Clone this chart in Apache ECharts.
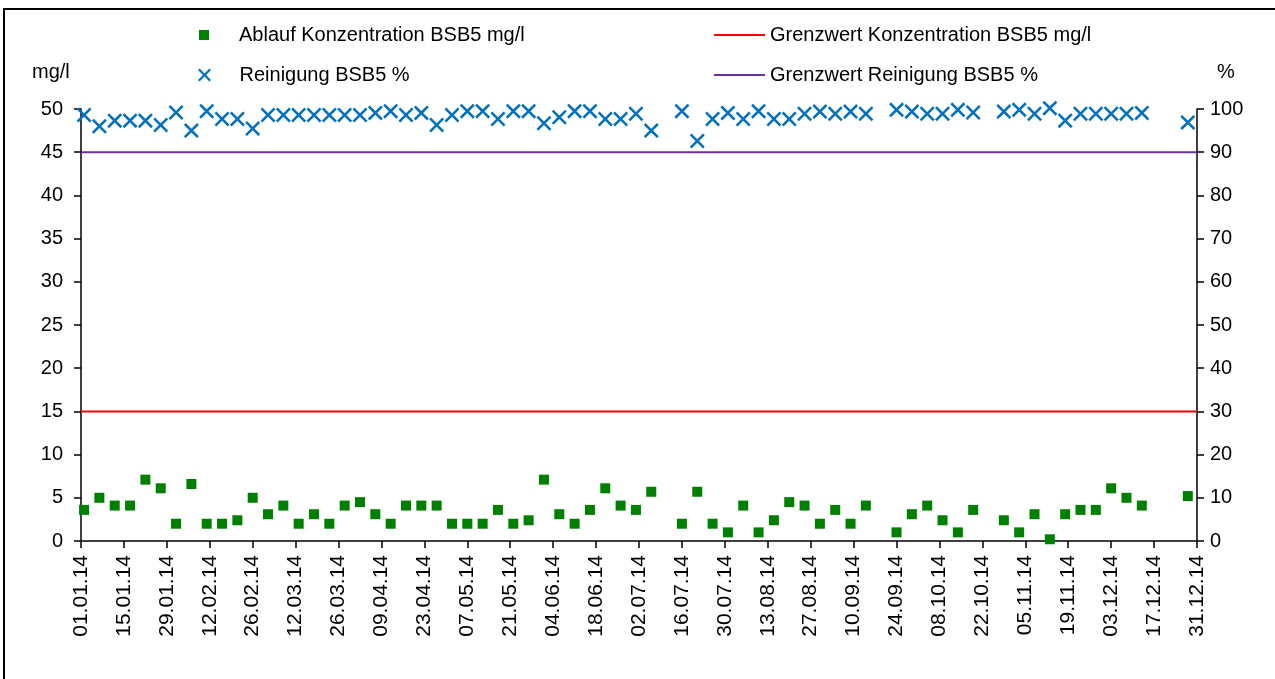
<!DOCTYPE html>
<html>
<head>
<meta charset="utf-8">
<title>BSB5 Ablauf 2014</title>
<script src="https://cdn.jsdelivr.net/npm/echarts@6/dist/echarts.min.js"></script>
<style>
  html, body { margin: 0; padding: 0; background: #fff; overflow: hidden; }
  #chart { width: 1275px; height: 679px; }
</style>
</head>
<body>
<div id="chart"></div>
<script>
// x-axis tick labels, every 14 days
const tickLabels = [
  '01.01.14', '15.01.14', '29.01.14', '12.02.14', '26.02.14', '12.03.14', '26.03.14',
  '09.04.14', '23.04.14', '07.05.14', '21.05.14', '04.06.14', '18.06.14', '02.07.14',
  '16.07.14', '30.07.14', '13.08.14', '27.08.14', '10.09.14', '24.09.14', '08.10.14',
  '22.10.14', '05.11.14', '19.11.14', '03.12.14', '17.12.14', '31.12.14'
];

// sampling dates
const messDatum = [
  '02.01.14', '07.01.14', '12.01.14', '17.01.14', '22.01.14', '27.01.14',
  '01.02.14', '06.02.14', '11.02.14', '16.02.14', '21.02.14', '26.02.14',
  '03.03.14', '08.03.14', '13.03.14', '18.03.14', '23.03.14', '28.03.14',
  '02.04.14', '07.04.14', '12.04.14', '17.04.14', '22.04.14', '27.04.14',
  '02.05.14', '07.05.14', '12.05.14', '17.05.14', '22.05.14', '27.05.14',
  '01.06.14', '06.06.14', '11.06.14', '16.06.14', '21.06.14', '26.06.14',
  '01.07.14', '06.07.14', '16.07.14', '21.07.14', '26.07.14', '31.07.14',
  '05.08.14', '10.08.14', '15.08.14', '20.08.14', '25.08.14', '30.08.14',
  '04.09.14', '09.09.14', '14.09.14', '24.09.14', '29.09.14',
  '04.10.14', '09.10.14', '14.10.14', '19.10.14', '29.10.14',
  '03.11.14', '08.11.14', '13.11.14', '18.11.14', '23.11.14', '28.11.14',
  '03.12.14', '08.12.14', '13.12.14', '28.12.14'
];

// Ablauf Konzentration BSB5 in mg/l
const ablaufBSB5 = [
  3.6, 5.0, 4.1, 4.1, 7.1, 6.1,
  2.0, 6.6, 2.0, 2.0, 2.4, 5.0,
  3.1, 4.1, 2.0, 3.1, 2.0, 4.1,
  4.5, 3.1, 2.0, 4.1, 4.1, 4.1,
  2.0, 2.0, 2.0, 3.6, 2.0, 2.4,
  7.1, 3.1, 2.0, 3.6, 6.1, 4.1,
  3.6, 5.7, 2.0, 5.7, 2.0, 1.0,
  4.1, 1.0, 2.4, 4.5, 4.1, 2.0,
  3.6, 2.0, 4.1, 1.0, 3.1,
  4.1, 2.4, 1.0, 3.6, 2.4,
  1.0, 3.1, 0.2, 3.1, 3.6, 3.6,
  6.1, 5.0, 4.1, 5.2
];

// Reinigungsleistung BSB5 in %
const reinigungBSB5 = [
  98.6, 96.0, 97.3, 97.3, 97.3, 96.3,
  99.2, 95.0, 99.5, 97.7, 97.7, 95.5,
  98.6, 98.6, 98.6, 98.6, 98.6, 98.6,
  98.6, 99.1, 99.5, 98.6, 99.1, 96.3,
  98.6, 99.5, 99.5, 97.7, 99.5, 99.5,
  96.7, 98.1, 99.5, 99.5, 97.7, 97.7,
  98.9, 95.0, 99.5, 92.6, 97.7, 99.1,
  97.7, 99.5, 97.7, 97.7, 98.9, 99.4,
  98.9, 99.4, 98.9, 99.8, 99.4,
  98.9, 98.9, 99.8, 99.2, 99.4,
  99.8, 98.9, 100.2, 97.3, 98.9, 98.9,
  98.9, 98.9, 99.1, 96.9
];

const grenzwertKonz = 15;       // mg/l
const grenzwertReinigung = 90;  // %

const fontFamily = '"Liberation Sans", Arial, sans-serif';
const crossPath = 'path://M0,1.2L1.2,0L5,3.8L8.8,0L10,1.2L6.2,5L10,8.8L8.8,10L5,6.2L1.2,10L0,8.8L3.8,5Z';

// days since 01.01.14
const toDay = (s) => {
  const [d, m, y] = s.split('.').map(Number);
  return (Date.UTC(2000 + y, m - 1, d) - Date.UTC(2014, 0, 1)) / 86400000;
};

const xStart = toDay(tickLabels[0]);
const xEnd = toDay(tickLabels[tickLabels.length - 1]);

const chart = echarts.init(document.getElementById('chart'));

const axisLine = { show: true, lineStyle: { color: '#000', width: 1.5 } };
const axisTick = { show: true, inside: false, length: 7, lineStyle: { color: '#000', width: 1.5 } };
const labelStyle = { color: '#000', fontSize: 20, fontFamily: fontFamily };

const legendBase = {
  orient: 'horizontal',
  textStyle: { color: '#000', fontSize: 20, fontFamily: fontFamily, lineHeight: 20 },
  selectedMode: false,
  padding: 0,
};

chart.setOption({
  animation: false,
  backgroundColor: '#fff',
  grid: { left: 81, right: 78, top: 109, bottom: 138 },
  legend: [
    Object.assign({}, legendBase, {
      data: ['Ablauf Konzentration BSB5 mg/l'],
      left: 199, top: 25, icon: 'path://M0,0H10V10H0Z', itemWidth: 60, itemHeight: 10,
    }),
    Object.assign({}, legendBase, {
      data: ['Reinigung BSB5 %'],
      left: 198, top: 65, icon: crossPath, itemWidth: 60, itemHeight: 13,
    }),
    Object.assign({}, legendBase, {
      data: ['Grenzwert Konzentration BSB5 mg/l'],
      left: 713, top: 25, itemWidth: 51, itemHeight: 2,
    }),
    Object.assign({}, legendBase, {
      data: ['Grenzwert Reinigung BSB5 %'],
      left: 713, top: 65, itemWidth: 51, itemHeight: 2,
    }),
  ],
  xAxis: {
    type: 'value',
    min: xStart,
    max: xEnd,
    interval: 14,
    axisLine: axisLine,
    axisTick: axisTick,
    splitLine: { show: false },
    axisLabel: Object.assign({}, labelStyle, {
      fontSize: 21,
      rotate: 90,
      margin: 14,
      formatter: (v) => tickLabels[Math.round((v - xStart) / 14)] || '',
    }),
  },
  yAxis: [
    {
      type: 'value', position: 'left', min: 0, max: 50, interval: 5,
      axisLine: axisLine, axisTick: axisTick, splitLine: { show: false },
      axisLabel: Object.assign({}, labelStyle, { margin: 18 }),
    },
    {
      type: 'value', position: 'right', min: 0, max: 100, interval: 10,
      axisLine: axisLine, axisTick: axisTick, splitLine: { show: false },
      axisLabel: Object.assign({}, labelStyle, { margin: 13 }),
    },
  ],
  graphic: [
    { type: 'rect', silent: true, shape: { x: 4, y: 9, width: 1300, height: 700 },
      style: { fill: 'none', stroke: '#000', lineWidth: 2 } },
    { type: 'text', silent: true, x: 32, y: 72,
      style: { text: 'mg/l', fill: '#000', font: '20px ' + fontFamily, verticalAlign: 'middle' } },
    { type: 'text', silent: true, x: 1217, y: 72,
      style: { text: '%', fill: '#000', font: '20px ' + fontFamily, verticalAlign: 'middle' } },
  ],
  series: [
    {
      name: 'Ablauf Konzentration BSB5 mg/l',
      type: 'scatter',
      yAxisIndex: 0,
      symbol: 'rect',
      symbolSize: 10,
      itemStyle: { color: '#008000', opacity: 1 },
      data: messDatum.map((d, i) => [toDay(d), ablaufBSB5[i]]),
    },
    {
      name: 'Grenzwert Konzentration BSB5 mg/l',
      type: 'line',
      yAxisIndex: 0,
      symbol: 'none',
      lineStyle: { color: '#ff0000', width: 2 },
      itemStyle: { color: '#ff0000' },
      data: [[xStart, grenzwertKonz], [xEnd, grenzwertKonz]],
    },
    {
      name: 'Reinigung BSB5 %',
      type: 'scatter',
      yAxisIndex: 1,
      symbol: crossPath,
      symbolSize: 15,
      clip: false,
      itemStyle: { color: '#0070c0', opacity: 1 },
      data: messDatum.map((d, i) => [toDay(d), reinigungBSB5[i]]),
    },
    {
      name: 'Grenzwert Reinigung BSB5 %',
      type: 'line',
      yAxisIndex: 1,
      symbol: 'none',
      lineStyle: { color: '#7030a0', width: 2 },
      itemStyle: { color: '#7030a0' },
      data: [[xStart, grenzwertReinigung], [xEnd, grenzwertReinigung]],
    },
  ],
});
</script>
</body>
</html>
